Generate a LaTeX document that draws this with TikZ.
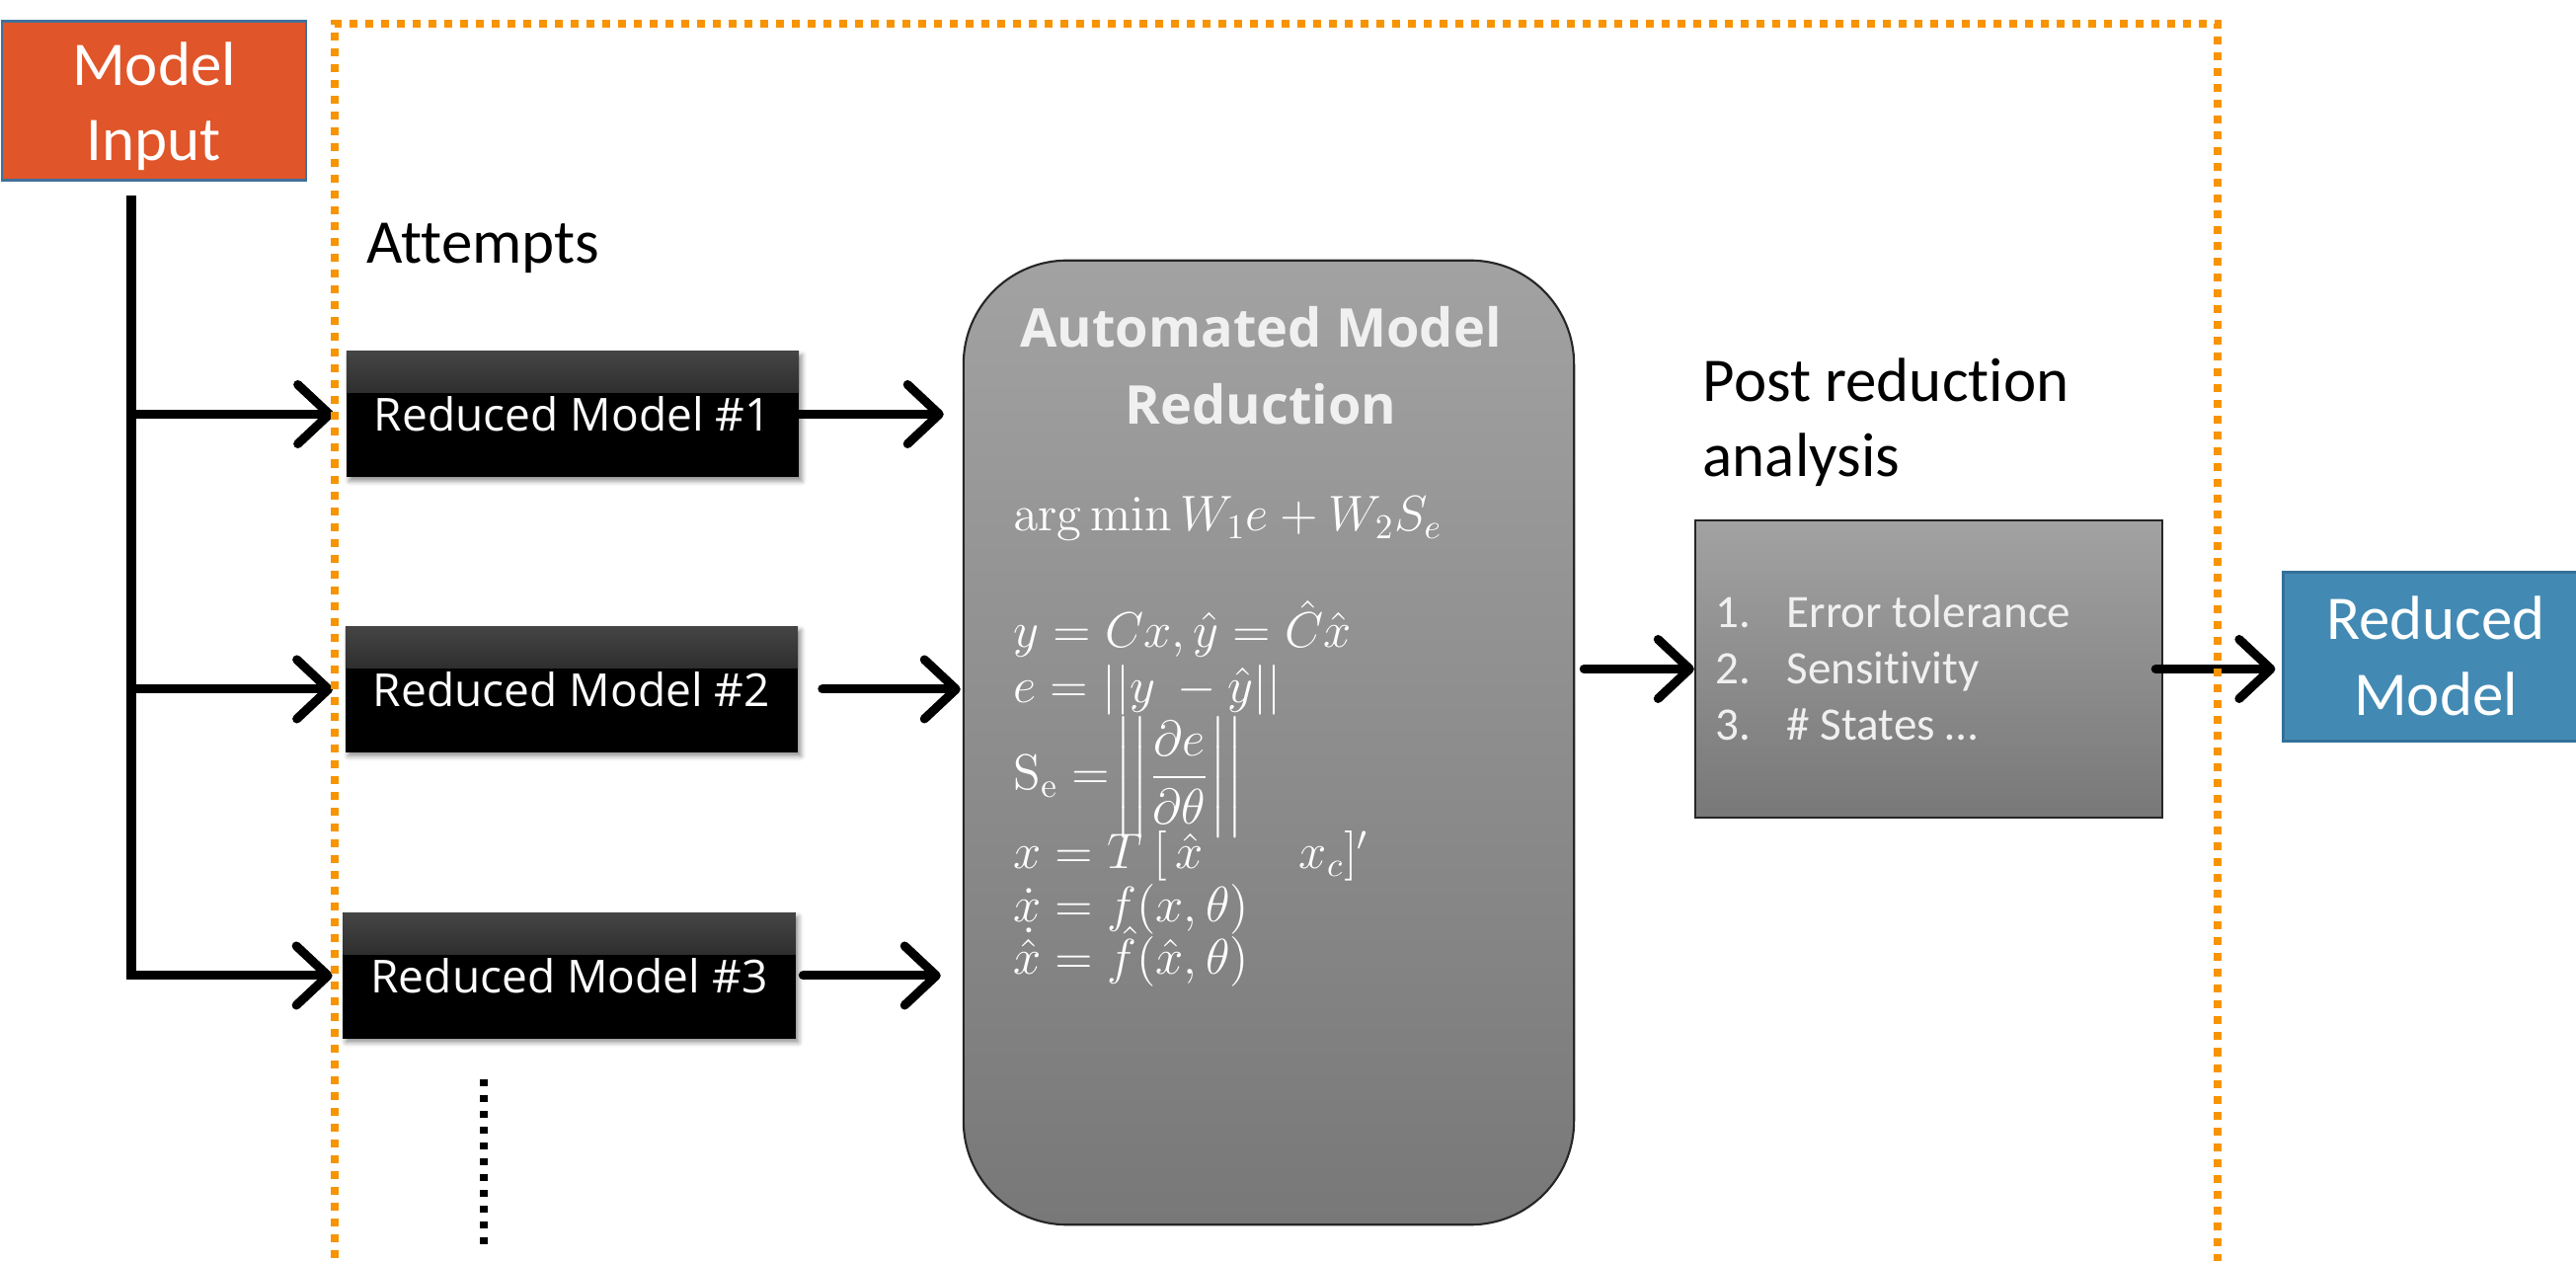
\documentclass[tikz,border=0pt]{standalone}
\usepackage[no-math]{fontspec}
\usepackage{amsmath}
\setmainfont{Carlito}[Ligatures={NoCommon,NoRequired,NoContextual}]
\newfontfamily\osans{Open Sans}
\usetikzlibrary{arrows.meta,shadows.blur}

\definecolor{inputred}{RGB}{224,85,41}
\definecolor{inputedge}{RGB}{65,113,156}
\definecolor{outblue}{RGB}{66,138,180}
\definecolor{outedge}{RGB}{52,112,152}
\definecolor{frameorange}{RGB}{247,148,0}
\definecolor{boxtop}{RGB}{162,162,162}
\definecolor{boxbot}{RGB}{120,120,120}
\definecolor{softwhite}{RGB}{240,240,240}

\newcommand{\bigfont}{\fontsize{17.9pt}{21.6pt}\selectfont}
\newcommand{\itemfont}{\fontsize{13.4pt}{16pt}\selectfont}
\newcommand{\rmfont}{\osans\fontsize{13.1pt}{16pt}\selectfont}
\newcommand{\titlefont}{\osans\bfseries\fontsize{15.4pt}{19pt}\selectfont}
\newcommand{\eqfont}{\fontsize{13.8pt}{16pt}\selectfont}

\begin{document}
\begin{tikzpicture}[x=0.01cm,y=-0.01cm,
  arr/.style={line width=0.09cm, line cap=round,
    -{Straight Barb[length=0.32cm,width=0.6cm,round]}},
  rmbox/.style={fill=black, minimum width=4.58cm, minimum height=1.27cm,
    inner sep=0pt, text=white, font=\rmfont,
    blur shadow={shadow xshift=0.03cm, shadow yshift=-0.04cm,
      shadow blur radius=0.05cm, shadow opacity=45},
    path picture={\shade[top color=black!73, bottom color=black]
      (path picture bounding box.north west) rectangle
      ([yshift=-0.42cm]path picture bounding box.north east);}},
  grayshade/.style={draw=black!85, line width=0.6pt,
    top color=boxtop, bottom color=boxbot},
  bigtxt/.style={inner sep=0pt, font=\bigfont},
  titletxt/.style={inner sep=0pt, anchor=base, text=softwhite, font=\titlefont},
  eq/.style={inner sep=0pt, anchor=base west, text=white, font=\eqfont},
  itemtxt/.style={inner sep=0pt, anchor=base west, text=softwhite, font=\itemfont},
]
\useasboundingbox (0,0) rectangle (2609,1277);
\clip (0,0) rectangle (2609,1277);

% model input
\node[fill=inputred, draw=inputedge, line width=0.025cm,
      minimum width=3.08cm, minimum height=1.61cm] (input) at (156,102) {};
\node[bigtxt, anchor=base, text=white] (inputA) at (156,87) {Model};
\node[bigtxt, anchor=base, text=white] (inputB) at (156,163) {Input};

\node[bigtxt, anchor=base west] (attempts) at (371,267) {Attempts};

% reduction attempts
\node[rmbox] (rm1) at (580,419.5) {Reduced Model \#1};
\node[rmbox] (rm2) at (579,698) {Reduced Model \#2};
\node[rmbox] (rm3) at (576.5,988) {Reduced Model \#3};

\coordinate (trunk) at (133,198);
\draw[arr, line cap=butt, shorten >=0.1cm] (trunk) |- (rm3.west);
\draw[arr, shorten >=0.12cm] (trunk |- rm1.west) -- (rm1.west);
\draw[arr, shorten >=0.12cm] (trunk |- rm2.west) -- (rm2.west);

\coordinate (dotsTop) at (490,1093);
\coordinate (dotsBot) at (490,1262);
\draw[line width=0.08cm, dash pattern=on 0.07cm off 0.09cm] (dotsTop) -- (dotsBot);

% automated model reduction
\node[grayshade, rounded corners=1.05cm, minimum width=6.18cm,
      minimum height=9.76cm] (amr) at (1285,752) {};
\node[titletxt] (amrA) at (1277,352) {Automated Model};
\node[titletxt] (amrB) at (1277,430) {Reduction};

\node[eq] (eq1) at (1026,538) {$\arg\min W_1e+W_2S_e$};
\node[eq] (eq2) at (1026,656) {$y=Cx,\hat{y}=\hat{C}\hat{x}$};
\node[eq] (eq3) at (1026,712) {$e=||y\ -\hat{y}||$};
\node[eq] (eq4) at (1026,800) {$\mathrm{S_e}\mathrel{=}\!\left|\left|\dfrac{\partial e}{\partial\theta}\right|\right|$};
\node[eq] (eq5) at (1026,880) {$x=T\ [\,\hat{x}\qquad x_c]'$};
\node[eq] (eq6) at (1026,934) {$\dot{x}=f(x,\theta)$};
\node[eq] (eq7) at (1026,987) {$\dot{\hat{x}}=\hat{f}(\hat{x},\theta)$};

\draw[arr, shorten <=-0.04cm, shorten >=0.19cm] (rm1.east) -- (rm1.east -| amr.west);
\draw[arr, shorten <=0.24cm, shorten >=0.02cm] (rm2.east) -- (rm2.east -| amr.west);
\draw[arr, shorten <=0.07cm, shorten >=0.22cm] (rm3.east) -- (rm3.east -| amr.west);

% post reduction analysis
\node[bigtxt, anchor=base west] (postA) at (1724,407) {Post reduction};
\node[bigtxt, anchor=base west] (postB) at (1724,483) {analysis};
\node[grayshade, minimum width=4.73cm, minimum height=3.01cm] (post) at (1953.5,677.5) {};
\node[itemtxt] (n1) at (1737,636) {1.};
\node[itemtxt] (i1) at (1809,636) {Error tolerance};
\node[itemtxt] (n2) at (1737,693) {2.};
\node[itemtxt] (i2) at (1809,693) {Sensitivity};
\node[itemtxt] (n3) at (1737,750) {3.};
\node[itemtxt] (i3) at (1809,750) {\# States \dots};

\draw[arr, shorten <=0.09cm] (amr.east |- post.west) -- (post.west);

% reduced model output
\node[fill=outblue, draw=outedge, line width=0.03cm,
      minimum width=2.99cm, minimum height=1.70cm] (out) at (2462.5,665) {};
\node[bigtxt, anchor=base, text=white] (outA) at (2467,648) {Reduced};
\node[bigtxt, anchor=base, text=white] (outB) at (2467,725) {Model};

\draw[arr, shorten <=-0.08cm, shorten >=0.07cm] (post.east) -- (post.east -| out.west);

% dotted frame round the reduction stage
\draw[frameorange, line width=0.08cm, dash pattern=on 0.08cm off 0.08cm]
  (339,1290) |- (2246,24) -- (2246,1290);
\end{tikzpicture}
\end{document}
